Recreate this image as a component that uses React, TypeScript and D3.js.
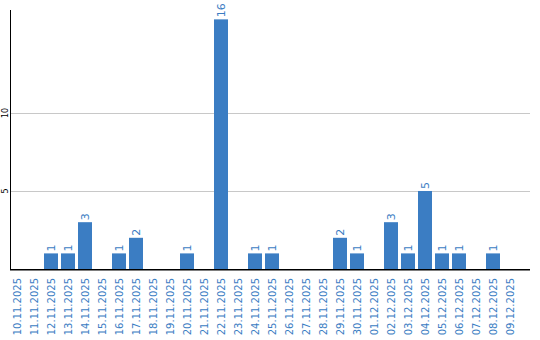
import React from "react";
import * as d3 from "d3";

const dates = [
  "10.11.2025","11.11.2025","12.11.2025","13.11.2025","14.11.2025","15.11.2025",
  "16.11.2025","17.11.2025","18.11.2025","19.11.2025","20.11.2025","21.11.2025",
  "22.11.2025","23.11.2025","24.11.2025","25.11.2025","26.11.2025","27.11.2025",
  "28.11.2025","29.11.2025","30.11.2025","01.12.2025","02.12.2025","03.12.2025",
  "04.12.2025","05.12.2025","06.12.2025","07.12.2025","08.12.2025","09.12.2025",
];
const values = [0,0,1,1,3,0,1,2,0,0,1,0,16,0,1,1,0,0,0,2,1,0,3,1,5,1,1,0,1,0];
const yTicks = [5, 10];

const W = 540, H = 340;
const BLUE = "#3b7dc3";
const FONT = "'DejaVu Sans', Verdana, sans-serif";

export default function App() {
  const p = 3 / 17;
  const x = d3.scaleBand<string>().domain(dates).range([8.5, 518.5]).paddingInner(p).paddingOuter(p / 2);
  const y = d3.scaleLinear().domain([0, 16.6]).range([269, 10]);
  const left = 10.5;
  const right = 530;
  return (
    <svg width={W} height={H} style={{ position: "absolute", left: 0, top: 0 }}>
      <rect width={W} height={H} fill="#fff" />
      {yTicks.map((t) => (
        <g key={t}>
          <line x1={left} x2={right} y1={Math.round(y(t)) + 0.5} y2={Math.round(y(t)) + 0.5} stroke="#c8c8c8" />
          <text
            transform={`translate(8,${y(t)}) rotate(-90)`}
            textAnchor="middle"
            fontFamily={FONT}
            fontSize={8}
            fill="#000"
          >
            {t}
          </text>
        </g>
      ))}
      {values.map((v, i) =>
        v > 0 ? (
          <g key={dates[i]}>
            <rect x={x(dates[i])} y={y(v)} width={x.bandwidth()} height={y(0) - y(v)} fill={BLUE} />
            <text
              transform={`translate(${(x(dates[i]) as number) + x.bandwidth() / 2 + 4},${y(v) - 2}) rotate(-90)`}
              fontFamily={FONT}
              fontSize={11}
              fill={BLUE}
            >
              {v}
            </text>
          </g>
        ) : null
      )}
      <line x1={left} x2={left} y1={10} y2={270} stroke="#000" strokeWidth={1} />
      <line x1={left - 0.5} x2={right} y1={269.75} y2={269.75} stroke="#000" strokeWidth={1.5} />
      {dates.map((d) => (
        <text
          key={d}
          transform={`translate(${(x(d) as number) + x.bandwidth() / 2 + 4},278) rotate(-90)`}
          textAnchor="end"
          fontFamily={FONT}
          fontSize={10}
          fill={BLUE}
        >
          {d}
        </text>
      ))}
    </svg>
  );
}
